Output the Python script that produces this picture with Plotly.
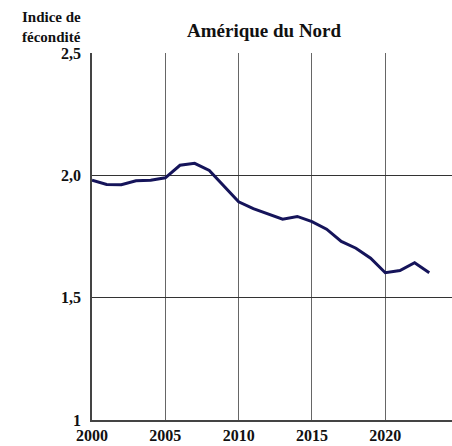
import plotly.graph_objects as go

years = list(range(2000, 2024))
fertility = [1.98, 1.963, 1.962, 1.978, 1.98, 1.99, 2.041, 2.049, 2.02, 1.958,
             1.892, 1.864, 1.843, 1.821, 1.832, 1.811, 1.78, 1.73, 1.702, 1.661,
             1.602, 1.611, 1.643, 1.602]
x_ticks = [2000, 2005, 2010, 2015, 2020]
y_ticks = [1.0, 1.5, 2.0, 2.5]
y_tick_labels = ["1", "1,5", "2,0", "2,5"]

FONT = "Liberation Serif"
W, H = 452, 446
ML, MR, MT, MB = 92, 0, 53, 26
plot_w = W - ML - MR
plot_h = H - MT - MB

fig = go.Figure()
fig.add_trace(go.Scatter(x=years, y=fertility, mode="lines",
                         line=dict(color="#15145a", width=3), showlegend=False,
                         hoverinfo="skip"))

fig.update_layout(
    width=W, height=H,
    margin=dict(l=ML, r=MR, t=MT, b=MB, autoexpand=False),
    paper_bgcolor="white", plot_bgcolor="white",
    font=dict(family=FONT, size=15, color="#111"),
    xaxis=dict(range=[2000, 2024.55], tickvals=x_ticks,
               ticktext=[f"<b>{v}</b>" for v in x_ticks],
               showgrid=True, gridcolor="#666", gridwidth=1,
               showline=True, linecolor="#444", linewidth=1.5,
               zeroline=False, ticks="", ticklen=0,
               tickfont=dict(family=FONT, size=16, color="#111")),
    yaxis=dict(range=[1.0, 2.5], tickvals=y_ticks,
               ticktext=[f"<b>{t}</b>" for t in y_tick_labels],
               showgrid=True, gridcolor="#333", gridwidth=1,
               showline=True, linecolor="#444", linewidth=1.5,
               zeroline=False, ticks="", ticklen=0, ticklabelstandoff=6,
               tickfont=dict(family=FONT, size=16, color="#111")),
    annotations=[
        dict(text="<b>Amérique du Nord</b>",
             x=(264 - ML) / plot_w, y=(H - MB - 30) / plot_h,
             xref="paper", yref="paper", xanchor="center", yanchor="middle",
             showarrow=False, font=dict(family=FONT, size=19, color="#111")),
        dict(text="<b>Indice de<br>fécondité</b>",
             x=(20 - ML) / plot_w, y=(H - MB - 7) / plot_h,
             xref="paper", yref="paper", xanchor="left", yanchor="top",
             showarrow=False, align="left",
             font=dict(family=FONT, size=15, color="#111")),
    ],
)

fig.write_html("out.html", config={"displayModeBar": False},
               post_script="document.body.style.margin='0px';document.body.style.overflow='hidden';")
